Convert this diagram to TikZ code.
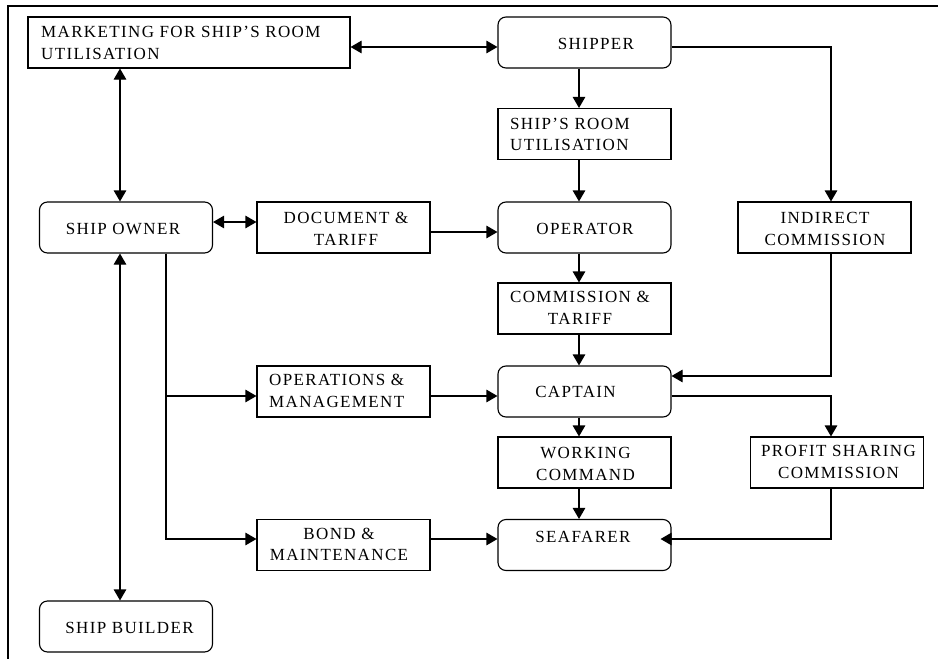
\documentclass[tikz,border=0pt]{standalone}
\usepackage{fontspec}
\setmainfont{Liberation Serif}[LetterSpace=8]
\usetikzlibrary{arrows.meta}
\begin{document}
\begin{tikzpicture}[x=1pt,y=-1pt,
  sqbox/.style={draw, line width=1.1pt, inner sep=0pt, minimum width=173pt, minimum height=51pt},
  rbox/.style={sqbox, rounded corners=8pt},
  lbl/.style={inner sep=0pt, font=\fontsize{17}{21.5}\selectfont, align=center},
  lbll/.style={lbl, align=left, anchor=west},
  link/.style={line width=1.1pt, -{Triangle[length=11pt,width=12.5pt]}},
  both/.style={line width=1.1pt, {Triangle[length=11pt,width=12.5pt]}-{Triangle[length=11pt,width=12.5pt]}}]
\useasboundingbox (0,0) rectangle (938,659);
% frame
\draw[line width=1.4pt] (8,659) -- (8,6) -- (938,6);

% guide coordinates for connector lines
\coordinate (xL) at (120,0);
\coordinate (xT) at (166,0);
\coordinate (xM) at (579,0);
\coordinate (xR) at (831,0);
\coordinate (yTop) at (0,47);
\coordinate (yDoc) at (0,222);
\coordinate (yOp) at (0,232);
\coordinate (yInd) at (0,376);
\coordinate (yCap) at (0,396);
\coordinate (ySea) at (0,539);

% boxes
\node[sqbox, minimum width=322pt] (mkt) at (189,42.5) {};
\node[rbox] (shipper) at (584.5,42.5) {};
\node[sqbox] (room) at (584.5,134) {};
\node[rbox] (owner) at (126,227.5) {};
\node[sqbox] (doc) at (343.5,227.5) {};
\node[rbox] (oper) at (584.5,227.5) {};
\node[sqbox] (ind) at (824.5,227.5) {};
\node[sqbox] (comm) at (584.5,308.5) {};
\node[sqbox] (ops) at (343.5,391.5) {};
\node[rbox] (capt) at (584.5,391.5) {};
\node[sqbox] (work) at (584.5,462.5) {};
\node[sqbox] (profit) at (837,462.5) {};
\node[sqbox] (bond) at (343.5,545) {};
\node[rbox] (sea) at (584.5,545) {};
\node[rbox] (builder) at (126,626.5) {};

% texts
\node[lbll] (tmkt) at (41,43) {MARKETING FOR SHIP’S ROOM\\UTILISATION};
\node[lbl] (tshipper) at (596,44) {SHIPPER};
\node[lbll] (troom) at (510,134.5) {SHIP’S ROOM\\UTILISATION};
\node[lbl] (towner) at (123,229) {SHIP OWNER};
\node[lbl] (tdoc) at (346,229) {DOCUMENT \&\\TARIFF};
\node[lbl] (toper) at (585,229) {OPERATOR};
\node[lbl] (tind) at (825,229) {INDIRECT\\COMMISSION};
\node[lbl] (tcomm) at (580,308) {COMMISSION \&\\TARIFF};
\node[lbll] (tops) at (269,391) {OPERATIONS \&\\MANAGEMENT};
\node[lbl] (tcapt) at (575.5,392) {CAPTAIN};
\node[lbl] (twork) at (585.5,464) {WORKING\\COMMAND};
\node[lbl] (tprofit) at (838.5,462) {PROFIT SHARING\\COMMISSION};
\node[lbl] (tbond) at (339,544.5) {BOND \&\\MAINTENANCE};
\node[lbl] (tsea) at (583,536.5) {SEAFARER};
\node[lbl] (tbuilder) at (129.5,628) {SHIP BUILDER};

% connectors
\draw[both] (mkt.east |- yTop) -- (shipper.west |- yTop);
\draw[both] (mkt.south -| xL) -- (owner.north -| xL);
\draw[both] (owner.east |- yDoc) -- (doc.west |- yDoc);
\draw[both] (owner.south -| xL) -- (builder.north -| xL);
\draw[link] (doc.east |- yOp) -- (oper.west |- yOp);
\draw[link] (shipper.south -| xM) -- (room.north -| xM);
\draw[link] (room.south -| xM) -- (oper.north -| xM);
\draw[link] (oper.south -| xM) -- (comm.north -| xM);
\draw[link] (comm.south -| xM) -- (capt.north -| xM);
\draw[link] (capt.south -| xM) -- (work.north -| xM);
\draw[link] (work.south -| xM) -- (sea.north -| xM);
\draw[link] (shipper.east |- yTop) -| (ind.north -| xR);
\draw[link] (ind.south -| xR) |- (capt.east |- yInd);
\draw[link] (capt.east |- yCap) -| (profit.north -| xR);
\draw[link] (profit.south -| xR) |- ([xshift=-11pt]sea.east |- ySea);
\draw[link] (owner.south -| xT) |- (ops.west |- yCap);
\draw[link] (owner.south -| xT) |- (bond.west |- ySea);
\draw[link] (ops.east |- yCap) -- (capt.west |- yCap);
\draw[link] (bond.east |- ySea) -- (sea.west |- ySea);
\end{tikzpicture}
\end{document}
